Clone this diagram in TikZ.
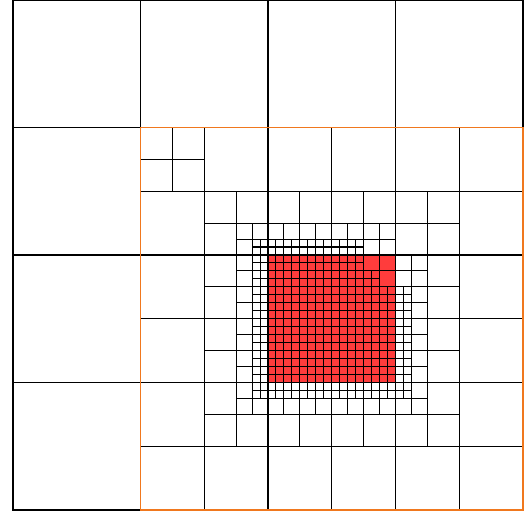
\documentclass[tikz,border=0pt]{standalone}
\usepackage{tikz}
\definecolor{cellred}{RGB}{255,60,60}
\definecolor{patchorange}{RGB}{240,120,30}

\begin{document}
\begin{tikzpicture}[
    x=0.159375cm, y=0.159375cm,
    meshline/.style={draw=black, line width=0.6pt},
    marked/.style={fill=cellred},
    patchbox/.style={draw=patchorange, line width=1.1pt}
]
    \useasboundingbox (-1.631,-0.627) rectangle (64.753,64);
    % marked cells
    \fill[marked] (32,16) rectangle (48,32);
    % quadtree levels, step/x1/y1/x2/y2
    \foreach \s/\xa/\ya/\xb/\yb in {16/0/0/64/64, 8/16/0/64/48, 4/16/40/24/48, 4/24/8/56/40,
                                    2/28/12/48/36, 2/48/12/52/32,
                                    1/30/14/44/34, 1/44/14/50/28, 1/44/28/46/30}
        \draw[meshline, step=\s] (\xa,\ya) grid (\xb,\yb) (\xa,\ya) rectangle (\xb,\yb);
    % refined patch
    \draw[patchbox] (16,0) rectangle (64,48);
\end{tikzpicture}
\end{document}
